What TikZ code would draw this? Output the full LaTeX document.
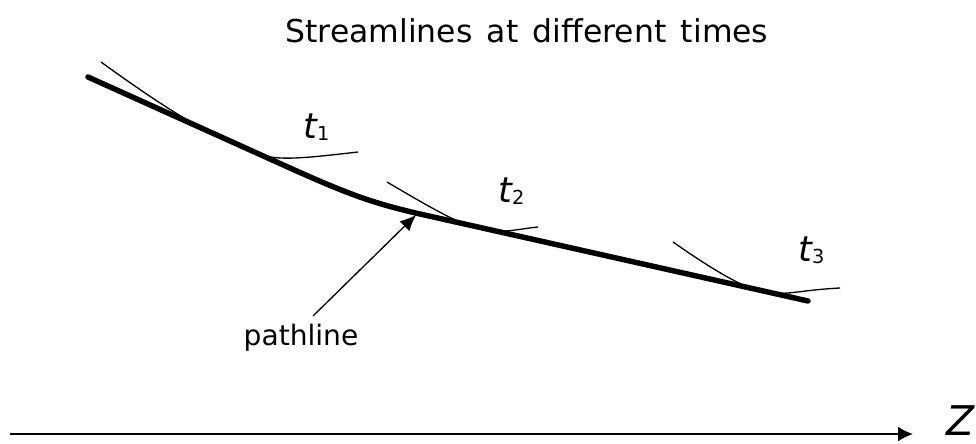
\documentclass[tikz,border=0pt]{standalone}
\usepackage{fontspec}
\setmainfont{DejaVu Sans}
\usetikzlibrary{arrows.meta, positioning}

\begin{document}
\begin{tikzpicture}[
			x=0.02cm, y=-0.02cm,
			every node/.style={inner sep=0pt},
			pathcurve/.style={line width=3.1pt, line cap=round},
			streamline/.style={line width=0.75pt},
			pointer/.style={-{Latex[length=0.32cm, width=0.28cm]}, line width=0.75pt},
			axis/.style={-{Latex[length=0.3cm, width=0.3cm]}, line width=1pt},
			timelbl/.style={font=\fontsize{20}{24}\selectfont\itshape, anchor=base west},
			]
			\useasboundingbox (0,0) rectangle (976,443);

			% Title
			\node[font=\fontsize{17.9}{21}\selectfont, anchor=base] (title) at (527,42)
			{Streamlines\hspace{8.2pt}at\hspace{8.2pt}different\hspace{8.2pt}times};

			% Pathline
			\draw[pathcurve] (88,77) -- (290,168)
			.. controls (348,194) and (372,203) .. (420,214) -- (808,301);

			% Streamlines
			\draw[streamline] (101,62) .. controls (152,99) and (191,124) .. (215,134.5)
			-- (255,152.7) .. controls (275,161.8) and (305,158) .. (358,152);
			\draw[streamline] (387,182) .. controls (431,208) and (458,223) .. (470,225.3)
			-- (492,230.2) .. controls (505,233) and (518,229) .. (538,227);
			\draw[streamline] (673,242) .. controls (713,270) and (741,286) .. (755,289.1)
			-- (768,292) .. controls (785,296) and (800,290) .. (840,288);

			% Time labels
			\node[timelbl] (t1) at (303,138) {t\raisebox{-1.5pt}{\upshape\fontsize{11}{13}\selectfont 1}};
			\node[timelbl] (t2) at (498,202) {t\raisebox{-1.5pt}{\upshape\fontsize{11}{13}\selectfont 2}};
			\node[timelbl] (t3) at (798,261) {t\raisebox{-1.5pt}{\upshape\fontsize{11}{13}\selectfont 3}};

			% Pathline label
			\node[font=\fontsize{16}{19}\selectfont, anchor=base] (pathlbl) at (301,345) {pathline};
			\coordinate (tail) at (313,316);
			\coordinate (hit) at (416,215);
			\draw[pointer] (tail) -- (hit);

			% Axis
			\coordinate (axisstart) at (10,434);
			\node[font=\fontsize{23.3}{28}\selectfont\itshape, anchor=base west] (zlbl) at (946,435) {Z};
			\draw[axis] (axisstart) -- (913,434);
		\end{tikzpicture}
\end{document}
